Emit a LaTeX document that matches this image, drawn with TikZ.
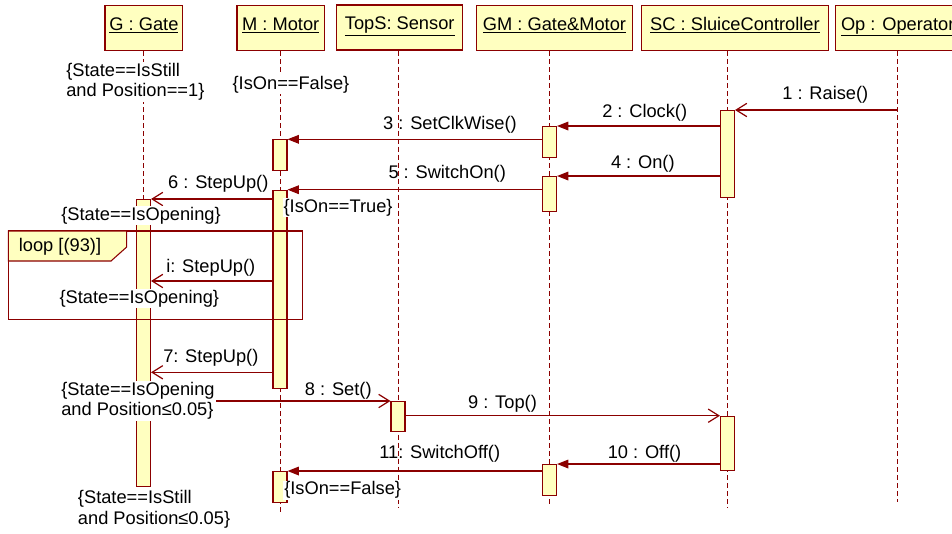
\documentclass[tikz,border=0pt]{standalone}
\usepackage{fontspec}
\setmainfont{Liberation Sans}
\usetikzlibrary{arrows.meta}

\definecolor{umlred}{RGB}{139,0,0}
\definecolor{umlfill}{RGB}{255,255,192}

\tikzset{
	obj/.style={draw=umlred, line width=1pt, fill=umlfill, inner sep=0pt, text height=18.2pt, text depth=15.5pt},
	actbar/.style={draw=umlred, line width=0.8pt, fill=umlfill, minimum width=10.5pt, inner sep=0pt, anchor=north},
	lifeline/.style={umlred, line width=0.75pt, dash pattern=on 3.75pt off 2.25pt},
	callmsg/.style={umlred, line width=0.9pt, -{Triangle[length=8.5pt,width=6.5pt]}},
	openmsg/.style={umlred, line width=0.9pt, -{Straight Barb[length=8pt,width=10pt]}},
	msglbl/.style={inner sep=0pt},
	cond/.style={fill=white, inner sep=0.75pt, align=left, anchor=west},
}

\begin{document}
\begin{tikzpicture}[x=0.75pt, y=-0.75pt, font=\fontsize{13.7}{15.5}\selectfont]
		
		\useasboundingbox (0,0) rectangle (952,533);
		\clip (0,0) rectangle (952,533);
		
		% Objects
		\node[obj, minimum width=58.3pt] (g) at (143.9,28.2) {\underline{G : Gate}};
		\node[obj, minimum width=65.5pt] (m) at (280.7,28.2) {\underline{M : Motor}};
		\node[obj, minimum width=94.5pt] (ts) at (399.7,27.5) {\underline{TopS: Sensor}};
		\node[obj, minimum width=116.7pt] (gm) at (554.5,28.2) {\underline{GM : Gate\&Motor}};
		\node[obj, minimum width=140.5pt] (sc) at (735,28.2) {\underline{SC : SluiceController}};
		\node[obj, minimum width=93.6pt] (op) at (897.7,28.2) {\underline{Op : Operator}};
		
		% Lifelines
		\coordinate (gend) at (143.5,486);
		\coordinate (mend) at (280,512.7);
		\coordinate (tsend) at (398,508);
		\coordinate (gmend) at (549.5,505);
		\coordinate (scend) at (727.5,508);
		\coordinate (opend) at (897.7,502);
		\draw[lifeline] (gend |- g.south) -- (gend);
		\draw[lifeline] (mend |- m.south) -- (mend);
		\draw[lifeline] (tsend |- ts.south) -- (tsend);
		\draw[lifeline] (gmend |- gm.south) -- (gmend);
		\draw[lifeline] (scend |- sc.south) -- (scend);
		\draw[lifeline] (opend |- op.south) -- (opend);
		
		% Activations
		\node[actbar, minimum height=65.5pt] (sc1) at (727.5,110) {};
		\node[actbar, minimum height=23pt] (gm1) at (549.5,126) {};
		\node[actbar, minimum height=26.3pt] (gm2) at (549.5,176) {};
		\node[actbar, minimum height=23.3pt] (m1) at (280,139.3) {};
		\node[actbar, minimum height=148.5pt] (m2) at (280,189.7) {};
		\node[actbar, minimum height=215pt] (g1) at (143.5,199) {};
		\node[actbar, minimum height=22.3pt] (ts1) at (398,401) {};
		\node[actbar, minimum height=40.7pt] (sc2) at (727.5,415.7) {};
		\node[actbar, minimum height=23.3pt] (gm3) at (549.5,464) {};
		\node[actbar, minimum height=23pt] (m3) at (280,471) {};
		
		% Loop frame
		\draw[umlred, line width=0.8pt] (8.3,231) rectangle (302.3,319.3);
		\draw[umlred, line width=0.8pt, fill=umlfill] (8.3,231) -- (126.7,231) -- (126.7,247) -- (111,261) -- (8.3,261) -- cycle;
		\node[msglbl] (loop) at (60,247) {loop [(93)]};
		
		% Messages
		\coordinate (stepi) at (280,281);
		\coordinate (step7) at (280,372.3);
		\draw[openmsg] (opend |- sc1.north) -- (sc1.north east);
		\draw[callmsg] (sc1.west |- gm1.north) -- (gm1.north east);
		\draw[callmsg] (gm1.west |- m1.north) -- (m1.north east);
		\draw[callmsg] (sc1.west |- gm2.north) -- (gm2.north east);
		\draw[callmsg] (gm2.west |- m2.north) -- (m2.north east);
		\draw[openmsg] (m2.west |- g1.north) -- (g1.north east);
		\draw[openmsg] (m2.west |- stepi) -- (g1.east |- stepi);
		\draw[openmsg] (m2.west |- step7) -- (g1.east |- step7);
		\draw[openmsg] (g1.east |- ts1.north) -- (ts1.north west);
		\draw[openmsg] (ts1.east |- sc2.north) -- (sc2.north west);
		\draw[callmsg] (sc2.west |- gm3.north) -- (gm3.north east);
		\draw[callmsg] (gm3.west |- m3.north) -- (m3.north east);
		
		\node[msglbl] (l1) at (825.3,94.3) {1 : Raise()};
		\node[msglbl] (l2) at (644.7,113) {2 : Clock()};
		\node[msglbl] (l3) at (450,125) {3 : SetClkWise()};
		\node[msglbl] (l4) at (642.8,164) {4 : On()};
		\node[msglbl] (l5) at (447.2,174) {5 : SwitchOn()};
		\node[msglbl] (l6) at (218.3,184) {6 : StepUp()};
		\node[msglbl] (li) at (210.8,267.5) {i: StepUp()};
		\node[msglbl] (l7) at (210.8,357.5) {7: StepUp()};
		\node[msglbl] (l8) at (338.3,390.8) {8 : Set()};
		\node[msglbl] (l9) at (502.5,404) {9 : Top()};
		\node[msglbl] (l10) at (644.5,453.3) {10 : Off()};
		\node[msglbl] (l11) at (439.7,454) {11: SwitchOff()};
		
		% Conditions
		\node[cond] (c1) at (65,81.9) {\{State==IsStill\\and Position==1\}};
		\node[cond] (c2) at (231.3,84.5) {\{IsOn==False\}};
		\node[cond] (c3) at (282.3,207.5) {\{IsOn==True\}};
		\node[cond] (c4) at (60,215.8) {\{State==IsOpening\}};
		\node[cond] (c5) at (58.3,298.5) {\{State==IsOpening\}};
		\node[cond] (c6) at (60,400.8) {\{State==IsOpening\\and Position≤0.05\}};
		\node[cond] (c7) at (283,490.2) {\{IsOn==False\}};
		\node[cond] (c8) at (76.7,509.5) {\{State==IsStill\\and Position≤0.05\}};
		
	\end{tikzpicture}
\end{document}
